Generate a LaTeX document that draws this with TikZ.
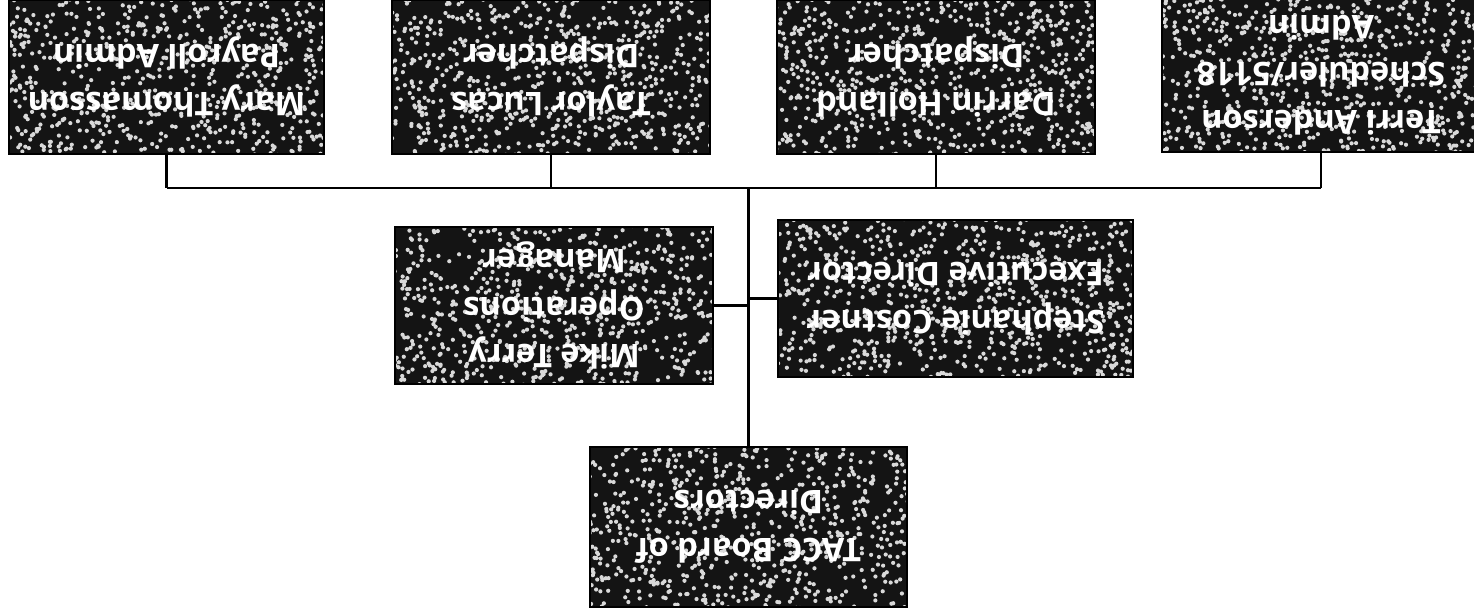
\documentclass[tikz,border=0pt]{standalone}
\usepackage{fontspec}
\setmainfont{Open Sans}
\usepackage{tikz}
\definecolor{staffblock}{gray}{0.08}
\definecolor{speckle}{gray}{0.85}
\tikzset{
	staffbox/.style={draw=black, line width=0.8pt, fill=staffblock, text=white,
		rotate=180, align=center, inner sep=0pt,
		font=\fontsize{18.5}{27}\selectfont\bfseries,
		path picture={
			\fill[speckle] (path picture bounding box.center)
				\foreach \k in {1,...,850}{ +({3.7*rand},{1.7*rand}) circle[radius=0.042] };
		}},
	orgline/.style={draw=black, line width=1.2pt}
}

\begin{document}
\begin{tikzpicture}
		\useasboundingbox (0,0) rectangle (29.48,12.3);
		
		% top row
		\node[staffbox, minimum width=6.3cm, minimum height=3.08cm] (mary) at (3.33,10.76) {Mary Thomasson\\Payroll Admin};
		\node[staffbox, minimum width=6.36cm, minimum height=3.08cm] (taylor) at (11.02,10.76) {Taylor Lucas\\Dispatcher};
		\node[staffbox, minimum width=6.36cm, minimum height=3.08cm] (darrin) at (18.72,10.76) {Darrin Holland\\Dispatcher};
		\node[staffbox, minimum width=6.36cm, minimum height=3.08cm] (terri) at (26.42,10.8) {Terri Anderson\\Scheduler/5118\\Admin};
		
		% middle row
		\node[staffbox, minimum width=6.36cm, minimum height=3.14cm] (mike) at (11.08,6.19) {Mike Terry\\Operations\\Manager};
		\node[staffbox, minimum width=7.1cm, minimum height=3.14cm] (stephanie) at (19.11,6.33) {Stephanie Costner\\Executive Director};
		
		% bottom
		\node[staffbox, minimum width=6.34cm, minimum height=3.2cm] (board) at (14.97,1.76) {TACC Board of\\Directors};
		
		\coordinate (bus) at (14.98,8.54);
		
		\draw[orgline] (mary.north |- bus) -- (terri.north |- bus);
		\draw[orgline] (mary.north) -- (mary.north |- bus);
		\draw[orgline] (taylor.north) -- (taylor.north |- bus);
		\draw[orgline] (darrin.north) -- (darrin.north |- bus);
		\draw[orgline] (terri.north) -- (terri.north |- bus);
		\draw[orgline] (board.south) -- (board.south |- bus);
		\draw[orgline] (mike.west) -- (mike.west -| board.south);
		\draw[orgline] (stephanie.east) -- (stephanie.east -| board.south);
	\end{tikzpicture}
\end{document}
